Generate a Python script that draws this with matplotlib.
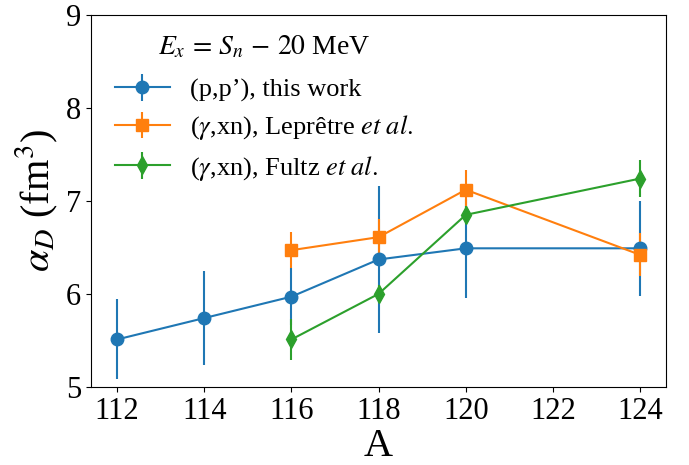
import numpy as np
import matplotlib
matplotlib.use("Agg")
import matplotlib.pyplot as plt

plt.rcParams['font.family'] = ['Liberation Serif', 'DejaVu Serif']
plt.rcParams['mathtext.fontset'] = 'stix'

# (p,p') this work
A_pp = [112, 114, 116, 118, 120, 124]
alpha_pp = [5.51, 5.74, 5.97, 6.37, 6.49, 6.49]
err_pp = [0.43, 0.51, 0.31, 0.79, 0.53, 0.51]

# (gamma,xn) Lepretre et al.
A_lep = [116, 118, 120, 124]
alpha_lep = [6.47, 6.61, 7.12, 6.42]
err_lep = [0.19, 0.19, 0.21, 0.23]

# (gamma,xn) Fultz et al.
A_ful = [116, 118, 120, 124]
alpha_ful = [5.51, 6.00, 6.85, 7.24]
err_ful = [0.22, 0.10, 0.10, 0.20]

fig = plt.figure(figsize=(6.89, 4.65), dpi=100)
ax = fig.add_axes([0.132, 0.168, 0.835, 0.80])

ax.errorbar(A_pp, alpha_pp, yerr=err_pp, fmt='-o', color='C0', ms=9,
            label="(p,p’), this work")
ax.errorbar(A_lep, alpha_lep, yerr=err_lep, fmt='-s', color='C1', ms=9,
            label=r"($\gamma$,xn), Leprêtre $et\ al.$")
ax.errorbar(A_ful, alpha_ful, yerr=err_ful, fmt='-d', color='C2', ms=9,
            label=r"($\gamma$,xn), Fultz $et\ al.$")

ax.set_ylim(5, 9)
ax.set_xticks([112, 114, 116, 118, 120, 122, 124])
ax.set_yticks([5, 6, 7, 8, 9])
ax.tick_params(labelsize=22)
ax.set_xlabel("A", fontsize=29, labelpad=2)
ax.set_ylabel(r"$\alpha_D$ (fm$^3$)", fontsize=29)

leg = ax.legend(title=r"$E_x\, =\, S_n\, -\, 20$ MeV", loc='upper left',
                bbox_to_anchor=(0, 1.014), frameon=False,
                fontsize=19, title_fontsize=20, handlelength=2.1,
                handletextpad=0.75, labelspacing=0.43)
# a bit more room between the title and the first entry
leg._legend_box.sep = 13

fig.savefig("out.png", dpi=100)
